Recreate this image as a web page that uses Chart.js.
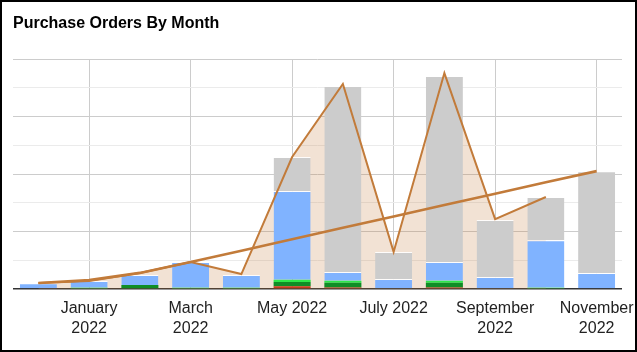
<!DOCTYPE html>
<html>
<head>
<meta charset="utf-8">
<script src="https://cdn.jsdelivr.net/npm/chart.js@4.4.1/dist/chart.umd.min.js"></script>
<style>
  html, body { margin: 0; padding: 0; background: #fff; }
  #wrap {
    width: 637px; height: 352px; box-sizing: border-box;
    border: 2px solid #000; background: #fff;
  }
  canvas { display: block; }
</style>
</head>
<body>
<div id="wrap"><canvas id="po-chart" width="633" height="348"></canvas></div>
<script>
// Months Dec 2021 .. Nov 2022
const months = ['Dec 2021', 'Jan 2022', 'Feb 2022', 'Mar 2022', 'Apr 2022', 'May 2022',
                'Jun 2022', 'Jul 2022', 'Aug 2022', 'Sep 2022', 'Oct 2022', 'Nov 2022'];
const tickLabels = ['', ['January', '2022'], '', ['March', '2022'], '', 'May 2022',
                    '', 'July 2022', '', ['September', '2022'], '', ['November', '2022']];

// stacked bar segments, bottom to top
const redPart    = [0, 0, 0, 0, 0, 1.0, 0.5, 0, 0.5, 0, 0, 0];
const darkGreen  = [0, 0, 1.4, 0, 0, 1.4, 1.7, 0.3, 1.7, 0.3, 0, 0.3];
const lightGreen = [0, 0.4, 0, 0.4, 0.4, 0.8, 0.7, 0, 0.7, 0, 0.4, 0];
const bluePart   = [2.0, 2.4, 3.5, 9.0, 4.5, 30.9, 3.0, 3.2, 6.5, 3.9, 16.6, 5.3];
const grayPart   = [0, 0, 0, 0, 0, 11.8, 64.7, 9.4, 64.7, 19.8, 15.0, 35.4];

// area (monthly total) and trend line
const monthTotal = [2.1, 2.8, 5.6, 9.4, 5.2, 45.9, 71.3, 12.9, 75.1, 24.3, 32.0, null];
const trend      = [2.1, 3.1, 5.6, 9.4, 13.3, 17.3, 21.3, 25.2, 29.2, 33.1, 37.1, 41.0];

const yMax = 80;
const yStep = 10;

const LINE = '#c27b3a';

function barSet(data, color, border) {
    return {
        type: 'bar',
        data: data,
        backgroundColor: color,
        borderColor: 'rgba(255,255,255,0.9)',
        borderWidth: border ? { top: 1, left: 0, right: 0, bottom: 0 } : 0,
        borderSkipped: 'start',
        stack: 'po',
        order: 2,
        categoryPercentage: 1.0,
        barPercentage: 0.73
    };
}

const ctx = document.getElementById('po-chart').getContext('2d');
new Chart(ctx, {
    data: {
        labels: months,
        datasets: [
            barSet(redPart, '#c43c1c', false),
            barSet(darkGreen, '#0f8d26', false),
            barSet(lightGreen, '#2ee84a', false),
            barSet(bluePart, '#80b3ff', true),
            barSet(grayPart, '#cccccc', true),
            {
                type: 'line',
                data: monthTotal,
                stack: 'total',
                borderColor: LINE,
                borderWidth: 2,
                backgroundColor: 'rgba(194,123,58,0.22)',
                fill: 'origin',
                pointRadius: 0,
                tension: 0,
                spanGaps: false,
                order: 0
            },
            {
                type: 'line',
                data: trend,
                stack: 'trend',
                borderColor: LINE,
                borderWidth: 2.6,
                fill: false,
                pointRadius: 0,
                tension: 0,
                order: 0
            }
        ]
    },
    options: {
        responsive: false,
        animation: false,
        layout: { padding: { left: 11, right: 13, top: 0, bottom: 0 } },
        plugins: {
            legend: { display: false },
            tooltip: { enabled: false },
            filler: { drawTime: 'beforeDatasetsDraw' },
            title: {
                display: true,
                text: 'Purchase Orders By Month',
                align: 'start',
                color: '#000',
                font: { family: 'Arial, "Liberation Sans", sans-serif', size: 16, weight: 'bold', lineHeight: 1.2 },
                padding: { top: 12.4, bottom: 25.4 }
            }
        },
        scales: {
            x: {
                stacked: true,
                offset: true,
                border: { display: false },
                grid: {
                    offset: false,
                    drawTicks: false,
                    color: (c) => (c.index % 2 === 1 ? '#cccccc' : 'rgba(0,0,0,0)'),
                    lineWidth: 1
                },
                ticks: {
                    autoSkip: false,
                    maxRotation: 0,
                    padding: 10,
                    color: '#222',
                    font: { family: 'Arial, "Liberation Sans", sans-serif', size: 16, lineHeight: 1.25 },
                    callback: (v, i) => tickLabels[i]
                },
                afterFit: (scale) => {
                    scale.height = 61;
                    scale.paddingLeft = 0;
                    scale.paddingRight = 0;
                }
            },
            y: {
                stacked: true,
                min: 0,
                max: yMax,
                border: { display: false },
                ticks: { display: false, stepSize: yStep },
                grid: {
                    drawTicks: false,
                    color: (c) => {
                        const v = c.tick.value;
                        if (v === 0) return '#333333';
                        return (v / yStep) % 2 === 0 ? '#cccccc' : '#ebebeb';
                    },
                    lineWidth: (c) => (c.tick.value === 0 ? 1.5 : 1)
                },
                afterFit: (scale) => { scale.width = 0; }
            }
        }
    }
});
</script>
</body>
</html>
